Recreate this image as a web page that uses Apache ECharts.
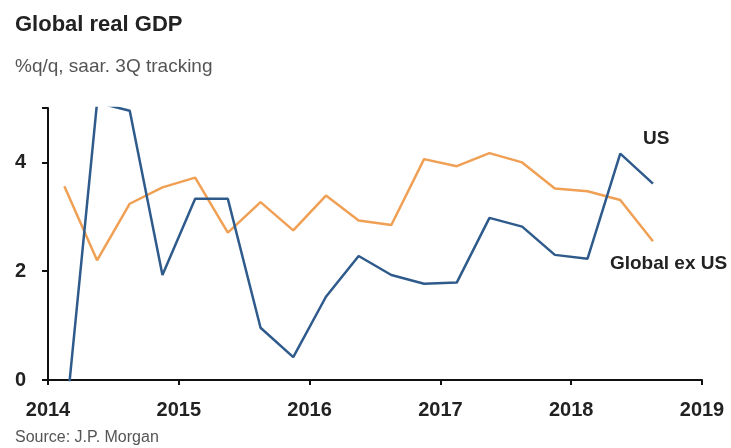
<!DOCTYPE html>
<html>
<head>
<meta charset="utf-8">
<script src="https://cdn.jsdelivr.net/npm/echarts@6/dist/echarts.min.js"></script>
<style>
html,body{margin:0;padding:0;background:#fff;}
#chart{width:731px;height:448px;}
</style>
</head>
<body>
<div id="chart"></div>
<script>
// Quarterly observations (plotted at mid-quarter)
var quarters = ["2014Q1","2014Q2","2014Q3","2014Q4","2015Q1","2015Q2","2015Q3","2015Q4",
  "2016Q1","2016Q2","2016Q3","2016Q4","2017Q1","2017Q2","2017Q3","2017Q4",
  "2018Q1","2018Q2","2018Q3"];
var usValues = [-1.0, 5.1, 4.95, 1.93, 3.33, 3.33, 0.96, 0.42,
  1.53, 2.28, 1.93, 1.77, 1.79, 2.98, 2.82, 2.3,
  2.23, 4.16, 3.61];
var globalExUsValues = [3.56, 2.2, 3.24, 3.54, 3.72, 2.71, 3.27, 2.75,
  3.39, 2.93, 2.85, 4.06, 3.93, 4.17, 4.0, 3.52,
  3.47, 3.31, 2.55];
var yearTicks = [2014, 2015, 2016, 2017, 2018, 2019];
var yTicks = [0, 2, 4];

function qToX(q){
  var y = parseInt(q.slice(0,4),10);
  var n = parseInt(q.slice(5),10);
  return y + (n - 0.5) / 4;
}
function pairs(vals){
  return quarters.map(function(q,i){ return [qToX(q), vals[i]]; });
}

var chart = echarts.init(document.getElementById('chart'), null, {renderer:'canvas'});
var font = 'Liberation Sans, Arial, sans-serif';
chart.setOption({
  animation:false,
  backgroundColor:'#fff',
  title:[
    {text:'Global real GDP', left:10, top:9, textStyle:{fontFamily:font, fontSize:22, fontWeight:'bold', color:'#222'}},
    {text:'%q/q, saar. 3Q tracking', left:10, top:52, textStyle:{fontFamily:font, fontSize:19, fontWeight:'normal', color:'#555'}},
    {text:'Source: J.P. Morgan', left:10, top:425, textStyle:{fontFamily:font, fontSize:16, fontWeight:'normal', color:'#555'}}
  ],
  grid:{left:48, right:29, top:108, bottom:68},
  xAxis:{
    type:'value', min:2014, max:2019, interval:1,
    axisLine:{lineStyle:{color:'#111', width:2}},
    axisTick:{show:true, length:5, lineStyle:{color:'#111', width:2}},
    splitLine:{show:false},
    axisLabel:{formatter:function(v){return yearTicks.indexOf(v)>=0 ? String(v) : '';}, fontFamily:font, fontSize:20, fontWeight:'bold', color:'#222', margin:20}
  },
  yAxis:{
    type:'value', min:0, max:5, interval:2,
    axisLine:{show:true, lineStyle:{color:'#111', width:2}},
    axisTick:{show:true, length:6, lineStyle:{color:'#111', width:2}},
    splitLine:{show:false},
    axisLabel:{formatter:function(v){return yTicks.indexOf(v)>=0 ? String(v) : '';}, fontFamily:font, fontSize:20, fontWeight:'bold', color:'#222', margin:22}
  },
  series:[
    {name:'Global ex US', type:'line', data:pairs(globalExUsValues), symbol:'none', clip:true,
     lineStyle:{color:'#f0a055', width:2.5}, z:2,
     endLabel:{show:true, formatter:'Global ex US', fontFamily:font, fontSize:19, fontWeight:'bold', color:'#222', offset:[-51,22]}},
    {name:'US', type:'line', data:pairs(usValues), symbol:'none', clip:true,
     lineStyle:{color:'#2f5b8c', width:2.5}, z:3,
     endLabel:{show:true, formatter:'US', fontFamily:font, fontSize:19, fontWeight:'bold', color:'#222', offset:[-18,-45]}}
  ]
});
</script>
</body>
</html>
